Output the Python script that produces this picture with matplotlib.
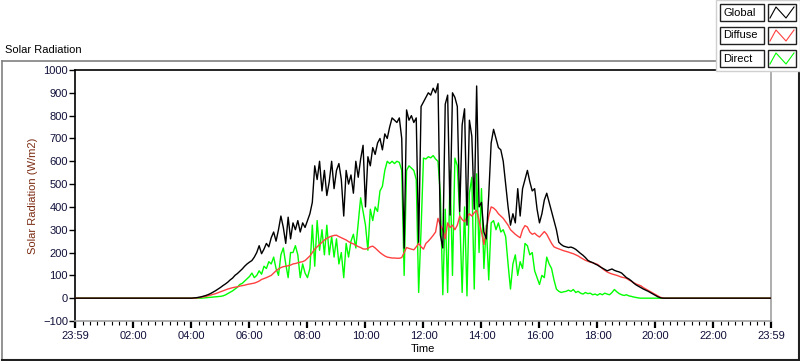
import matplotlib
matplotlib.use("Agg")
import matplotlib.pyplot as plt
import numpy as np
from matplotlib.lines import Line2D
from matplotlib.patches import Rectangle
from matplotlib.ticker import MultipleLocator

plt.rcParams["font.family"] = ["Liberation Sans", "DejaVu Sans"]

# readings every 5 minutes from 04:00 to 20:30 (W/m2)
global_rad = [
    0, 1, 2, 4, 6, 9,
    12, 16, 21, 27, 33, 40,
    47, 55, 62, 70, 80, 88,
    100, 108, 118, 128, 140, 150,
    158, 165, 180, 200, 230, 195,
    215, 240, 225, 265, 290, 250,
    300, 360, 310, 240, 355, 260,
    330, 300, 340, 290, 330, 310,
    340, 370, 420, 580, 520, 600,
    470, 560, 450, 510, 600, 480,
    560, 590, 520, 360, 560, 500,
    540, 460, 600, 530, 610, 670,
    400, 620, 580, 660, 630, 680,
    700, 650, 720, 700, 750, 790,
    780, 770, 790, 700, 219, 825,
    780, 800, 770, 790, 245, 840,
    860, 880, 900, 890, 920, 900,
    940, 276, 220, 850, 890, 364,
    900, 880, 840, 380, 760, 830,
    320, 780, 710, 390, 930, 400,
    420, 290, 260, 450, 680, 740,
    700, 660, 650, 600, 500, 400,
    320, 370, 330, 480, 360, 480,
    520, 560, 510, 470, 480, 390,
    330, 370, 430, 460, 420, 380,
    340, 300, 245, 235, 228, 225,
    222, 224, 220, 214, 205, 196,
    188, 178, 166, 160, 156, 150,
    145, 138, 132, 126, 120, 124,
    128, 122, 118, 115, 110, 100,
    90, 84, 76, 66, 58, 52,
    46, 40, 35, 30, 24, 18,
    12, 6, 2, 0, 0, 0,
    0,
]

diffuse_rad = [
    0, 0, 1, 2, 4, 6,
    8, 11, 14, 17, 20, 24,
    28, 32, 36, 40, 43, 46,
    48, 50, 53, 55, 57, 60,
    62, 64, 66, 70, 75, 82,
    86, 90, 95, 100, 110, 120,
    128, 134, 138, 140, 142, 145,
    150, 152, 155, 158, 160, 165,
    175, 185, 200, 215, 225, 235,
    245, 255, 262, 268, 272, 275,
    276, 270, 265, 260, 255, 248,
    242, 238, 232, 226, 222, 216,
    215, 218, 225, 228, 220, 210,
    200, 192, 185, 180, 178, 176,
    176, 175, 175, 178, 200, 222,
    218, 215, 212, 225, 240, 225,
    215, 240, 250, 262, 275, 290,
    350, 320, 300, 260, 330, 310,
    320, 300, 320, 360, 345, 335,
    355, 370, 360, 375, 385, 340,
    290, 235, 300, 360, 400, 395,
    385, 370, 360, 350, 335, 320,
    300, 290, 280, 272, 265, 300,
    318, 312, 290, 280, 285, 275,
    268, 280, 292, 280, 260, 240,
    225, 220, 216, 212, 208, 205,
    202, 198, 195, 190, 185, 178,
    172, 166, 162, 158, 155, 152,
    148, 140, 130, 122, 115, 110,
    106, 103, 100, 96, 92, 90,
    87, 80, 74, 68, 62, 58,
    54, 46, 40, 34, 28, 22,
    16, 10, 4, 1, 0, 0,
    0,
]

direct_rad = [
    0, 0, 0, 0, 0, 1,
    2, 3, 4, 5, 6, 7,
    8, 10, 14, 20, 26, 32,
    40, 48, 60, 65, 75, 85,
    95, 110, 90, 100, 120, 105,
    140, 130, 160, 150, 180, 130,
    100, 190, 220, 150, 90, 200,
    200, 230, 190, 90, 150, 110,
    90, 130, 320, 140, 340, 210,
    300, 190, 320, 190, 270, 180,
    260, 150, 200, 90, 240, 180,
    250, 280, 220, 330, 440, 380,
    320, 210, 390, 340, 400, 380,
    470, 490, 560, 600, 590, 600,
    590, 600, 595, 560, 100, 560,
    580, 570, 560, 520, 25, 300,
    614, 610, 620, 615, 625, 610,
    600, 450, 15, 390, 25, 560,
    100, 614, 580, 360, 25, 400,
    10, 460, 530, 40, 545, 200,
    480, 130, 320, 80, 330, 340,
    300, 330, 290, 300, 270, 150,
    40, 150, 190, 100, 160, 130,
    240, 230, 190, 200, 120, 90,
    60, 100, 90, 180, 150, 130,
    80, 40, 30, 25, 28, 30,
    35, 30, 38, 25, 30, 22,
    18, 25, 20, 22, 15, 18,
    13, 20, 15, 22, 18, 15,
    25, 38, 28, 20, 15, 12,
    15, 10, 8, 5, 3, 1,
    0, 0, 0, 0, 0, 0,
    0, 0, 0, 0, 0, 0,
    0,
]

series_names = ["Global", "Diffuse", "Direct"]
series_colors = ["#000000", "#ff4040", "#00ff00"]
tick_labels = ["23:59", "02:00", "04:00", "06:00", "08:00", "10:00", "12:00",
               "14:00", "16:00", "18:00", "20:00", "22:00", "23:59"]

W, H = 800, 361


def fx(px):
    return px / W


def fy(py):
    return 1 - py / H


start = -1 / 60
end = 24 - 1 / 60
t_day = 4 + np.arange(len(global_rad)) * 5 / 60
t = np.concatenate([[start], t_day, [end]])


def padded(vals):
    return np.concatenate([[0], vals, [0]])


fig = plt.figure(figsize=(W / 100, H / 100), dpi=100)
fig.patch.set_facecolor("white")

ax = fig.add_axes([fx(75), fy(321), fx(771) - fx(75), fy(70) - fy(321)])
ax.plot(t, padded(direct_rad), color=series_colors[2], lw=1.0, zorder=2)
ax.plot(t, padded(diffuse_rad), color=series_colors[1], lw=1.0, zorder=3)
ax.plot(t, padded(global_rad), color=series_colors[0], lw=1.0, zorder=4)

ax.set_xlim(start, end)
ax.set_ylim(-100, 1000)
ax.set_yticks(np.arange(-100, 1001, 100))
major = [start] + list(range(2, 23, 2)) + [end]
ax.set_xticks(major)
ax.set_xticklabels(tick_labels)
ax.xaxis.set_minor_locator(MultipleLocator(0.25))

for side in ["top", "left"]:
    ax.spines[side].set_color("black")
    ax.spines[side].set_linewidth(1.2)
for side in ["bottom", "right"]:
    ax.spines[side].set_color("#a0a0a0")
    ax.spines[side].set_linewidth(1.2)

ax.tick_params(axis="y", length=4, width=1, pad=1, labelsize=8,
               labelcolor="#10103a")
ax.tick_params(axis="x", which="major", length=5, width=1.6, pad=2,
               labelsize=8, labelcolor="#10103a")
ax.tick_params(axis="x", which="minor", length=3, width=0.8)
ax.set_ylabel("Solar Radiation (W/m2)", fontsize=8, color="#7b2b12",
              labelpad=4)
ax.set_xlabel("Time", fontsize=8, labelpad=2)

# outer panel frame and title
fig.add_artist(Line2D([fx(2), fx(716)], [fy(61), fy(61)],
                      color="#808080", lw=1.2, transform=fig.transFigure))
fig.add_artist(Line2D([fx(2), fx(2)], [fy(61), fy(359)],
                      color="#808080", lw=1.2, transform=fig.transFigure))
fig.add_artist(Line2D([fx(2), fx(798)], [fy(359.5), fy(359.5)],
                      color="#202020", lw=1.5, transform=fig.transFigure))
fig.add_artist(Line2D([fx(798.5), fx(798.5)], [fy(70), fy(359.5)],
                      color="#202020", lw=1.5, transform=fig.transFigure))
fig.text(fx(5), fy(50), "Solar Radiation", fontsize=8, va="center", ha="left")

# LabVIEW style plot legend
fig.add_artist(Rectangle((fx(716), fy(71)), fx(800) - fx(716), fy(0) - fy(71),
                         facecolor="white", edgecolor="#d0d0d0", lw=1,
                         transform=fig.transFigure, zorder=10))
rows = [(4, 21), (27, 44), (50, 67)]
for (y0, y1), name, col in zip(rows, series_names, series_colors):
    fig.add_artist(Rectangle((fx(720), fy(y1)), fx(764) - fx(720), fy(y0) - fy(y1),
                             facecolor="white", edgecolor="#202020", lw=1,
                             transform=fig.transFigure, zorder=11))
    fig.add_artist(Rectangle((fx(768), fy(y1)), fx(796) - fx(768), fy(y0) - fy(y1),
                             facecolor="white", edgecolor="#202020", lw=1,
                             transform=fig.transFigure, zorder=11))
    fig.text(fx(723), fy((y0 + y1) / 2), name, fontsize=8, va="center",
             ha="left", zorder=12)
    zx = [770, 776, 786, 794]
    zy = [y1 - 3, y0 + 3, y1 - 3, y0 + 3]
    fig.add_artist(Line2D([fx(v) for v in zx], [fy(v) for v in zy],
                          color=col, lw=0.8, transform=fig.transFigure,
                          zorder=12))

fig.savefig("out.png", dpi=100)
